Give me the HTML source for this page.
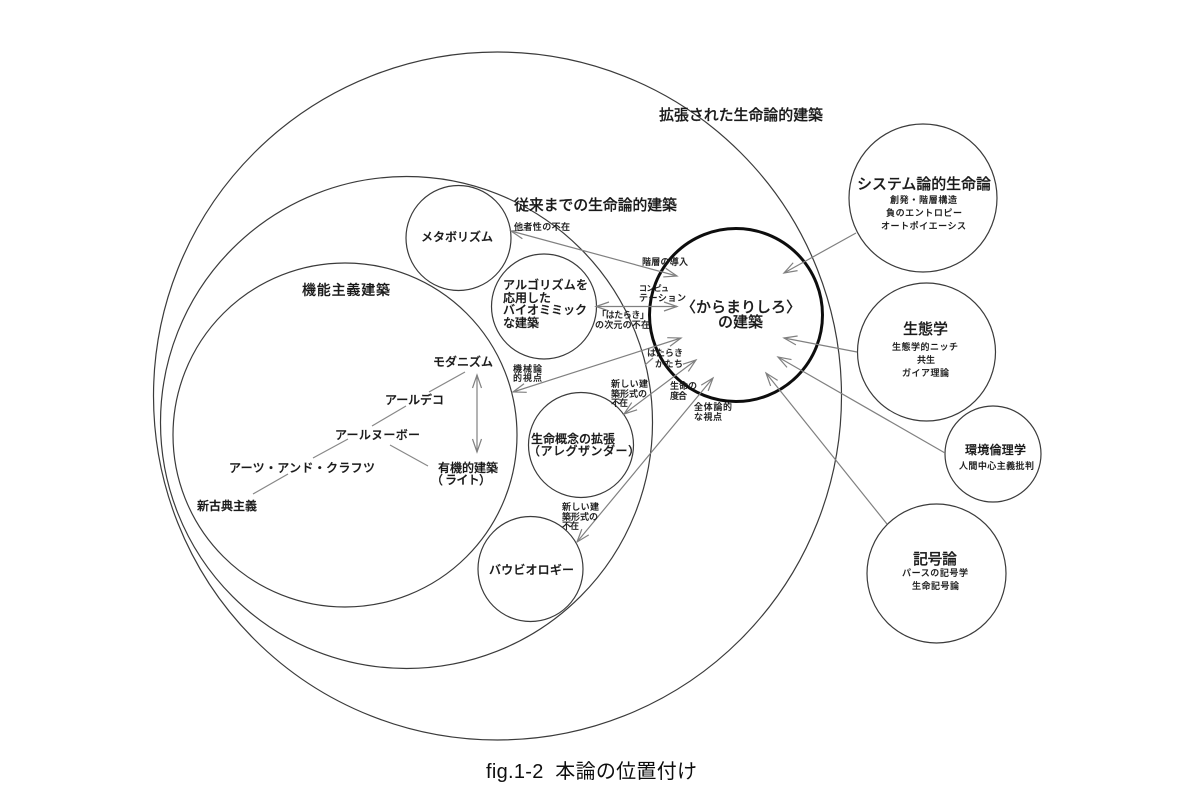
<!DOCTYPE html>
<html lang="ja"><head><meta charset="utf-8"><title>fig.1-2</title>
<style>
html,body{margin:0;padding:0;background:#fff;width:1200px;height:794px;overflow:hidden}
svg{display:block}
text{font-family:"Liberation Sans","Noto Sans CJK JP",sans-serif;fill:#1a1a1a}
.l{font-size:12px;font-weight:500;stroke:#1a1a1a;stroke-width:.25}
.m{font-size:15px;font-weight:500;stroke:#1a1a1a;stroke-width:.2}
.s{font-size:9px;font-weight:500;stroke:#1a1a1a;stroke-width:.15}
.c{fill:none;stroke:#3a3a3a;stroke-width:1.2}
.a{fill:none;stroke:#808080;stroke-width:1.2}
.t{fill:none;stroke:#888;stroke-width:1.2}
</style></head><body>
<svg width="1200" height="794" viewBox="0 0 1200 794" xmlns="http://www.w3.org/2000/svg">
<defs>
<marker id="h" viewBox="-14 -6 16 12" refX="0" refY="0" markerWidth="16" markerHeight="12" markerUnits="userSpaceOnUse" orient="auto-start-reverse">
<path d="M-13,-4.5 L0,0 L-13,4.5" fill="none" stroke="#808080" stroke-width="1.2"/>
</marker>
<filter id="b" x="0" y="0" width="100%" height="100%"><feGaussianBlur stdDeviation="0.35"/></filter>
</defs>
<g filter="url(#b)">
<rect x="0" y="0" width="1200" height="794" fill="#fff"/>
<g>
<circle class="c" cx="497.5" cy="396" r="344"/>
<circle class="c" cx="406.5" cy="422.5" r="246"/>
<circle class="c" cx="345" cy="435" r="172"/>
<circle class="c" cx="458.5" cy="238" r="52.5"/>
<circle class="c" cx="544" cy="306.5" r="52.5"/>
<circle class="c" cx="581" cy="445" r="52.5"/>
<circle class="c" cx="530.5" cy="569" r="52.5"/>
<circle class="c" cx="923" cy="198" r="74"/>
<circle class="c" cx="926.5" cy="352" r="69"/>
<circle class="c" cx="993" cy="454" r="48"/>
<circle class="c" cx="936.5" cy="573.5" r="69.5"/>
<circle cx="736" cy="315" r="86.5" fill="none" stroke="#111" stroke-width="3"/>
</g>
<g>
<line class="a" x1="511" y1="231" x2="677" y2="276" marker-start="url(#h)" marker-end="url(#h)"/>
<line class="a" x1="596" y1="306.5" x2="677" y2="306.5" marker-start="url(#h)" marker-end="url(#h)"/>
<line class="a" x1="513" y1="392" x2="681" y2="338" marker-start="url(#h)" marker-end="url(#h)"/>
<line class="a" x1="624" y1="414" x2="696" y2="360" marker-start="url(#h)" marker-end="url(#h)"/>
<line class="a" x1="577" y1="542" x2="713" y2="378" marker-start="url(#h)" marker-end="url(#h)"/>
<line class="a" x1="477" y1="375" x2="477" y2="452" marker-start="url(#h)" marker-end="url(#h)"/>
<line class="a" x1="856" y1="233" x2="784" y2="273" marker-end="url(#h)"/>
<line class="a" x1="857" y1="352" x2="784" y2="338" marker-end="url(#h)"/>
<line class="a" x1="945" y1="453" x2="778" y2="357" marker-end="url(#h)"/>
<line class="a" x1="887" y1="524" x2="766" y2="373" marker-end="url(#h)"/>
<line class="t" x1="645" y1="365" x2="653" y2="358"/>
<line class="t" x1="465" y1="372" x2="429" y2="392"/>
<line class="t" x1="406" y1="406" x2="372" y2="426"/>
<line class="t" x1="348" y1="439" x2="313" y2="458"/>
<line class="t" x1="288" y1="474" x2="253" y2="494"/>
<line class="t" x1="390" y1="445" x2="428" y2="466"/>
</g>
<g lengthAdjust="spacing">
<text class="m" x="659" y="120" textLength="164">拡張された生命論的建築</text>
<text class="m" x="514" y="210" textLength="163">従来までの生命論的建築</text>
<text class="m" x="302" y="295" textLength="88" style="font-size:14px">機能主義建築</text>

<text class="s" x="514" y="230" textLength="56">他者性の不在</text>
<text class="s" x="642" y="265" textLength="46">階層の導入</text>
<text class="s" x="639" y="291" textLength="30" style="font-size:8px">コンピュ</text>
<text class="s" x="639" y="301" textLength="47">テーション</text>
<text class="s" x="597" y="318" textLength="52">「はたらき」</text>
<text class="s" x="595" y="328" textLength="55">の次元の不在</text>
<text class="s" x="647" y="356" textLength="36">はたらき</text>
<text class="s" x="655" y="367" textLength="28">かたち</text>
<text class="s" x="513" y="372" textLength="29">機械論</text>
<text class="s" x="513" y="381" textLength="29">的視点</text>
<text class="s" x="611" y="387" textLength="37">新しい建</text>
<text class="s" x="611" y="397" textLength="36">築形式の</text>
<text class="s" x="611" y="406" textLength="17">不在</text>
<text class="s" x="670" y="389" textLength="27">生命の</text>
<text class="s" x="670" y="399" textLength="17">度合</text>
<text class="s" x="694" y="410" textLength="38">全体論的</text>
<text class="s" x="694" y="420" textLength="28">な視点</text>
<text class="s" x="562" y="510" textLength="37">新しい建</text>
<text class="s" x="562" y="520" textLength="36">築形式の</text>
<text class="s" x="562" y="529" textLength="17">不在</text>

<text class="l" x="421" y="241" textLength="72">メタボリズム</text>
<text class="l" x="503" y="289" textLength="85">アルゴリズムを</text>
<text class="l" x="503" y="302" textLength="48">応用した</text>
<text class="l" x="503" y="314" textLength="84">バイオミミック</text>
<text class="l" x="503" y="327" textLength="36">な建築</text>
<text class="m" x="681" y="312" textLength="120">〈からまりしろ〉</text>
<text class="m" x="718" y="327" textLength="45">の建築</text>
<text class="l" x="531" y="443" textLength="84">生命概念の拡張</text>
<text class="l" x="528" y="455" textLength="112">（アレグザンダー）</text>
<text class="l" x="489" y="574" textLength="85">バウビオロギー</text>

<text class="l" x="433" y="366" textLength="60">モダニズム</text>
<text class="l" x="385" y="404" textLength="59">アールデコ</text>
<text class="l" x="335" y="439" textLength="85">アールヌーボー</text>
<text class="l" x="229" y="472" textLength="146">アーツ・アンド・クラフツ</text>
<text class="l" x="197" y="510" textLength="60">新古典主義</text>
<text class="l" x="438" y="472" textLength="60">有機的建築</text>
<text class="l" x="431" y="484" textLength="60">（ ライト）</text>

<text class="m" x="857" y="189" textLength="134">システム論的生命論</text>
<text class="s" x="890" y="203" textLength="67">創発・階層構造</text>
<text class="s" x="886" y="216" textLength="76">負のエントロピー</text>
<text class="s" x="881" y="229" textLength="85">オートポイエーシス</text>
<text class="m" x="903" y="334" textLength="45">生態学</text>
<text class="s" x="892" y="350" textLength="66">生態学的ニッチ</text>
<text class="s" x="917" y="363" textLength="18">共生</text>
<text class="s" x="902" y="376" textLength="47">ガイア理論</text>
<text class="l" x="965" y="454" textLength="61">環境倫理学</text>
<text class="s" x="959" y="469" textLength="75">人間中心主義批判</text>
<text class="m" x="913" y="564" textLength="44">記号論</text>
<text class="s" x="902" y="576" textLength="66">パースの記号学</text>
<text class="s" x="912" y="589" textLength="47">生命記号論</text>

<text x="486" y="778" textLength="211" style="font-size:20px;fill:#111">fig.1-2&#160; 本論の位置付け</text>
</g>
</g>
</svg>
</body></html>
